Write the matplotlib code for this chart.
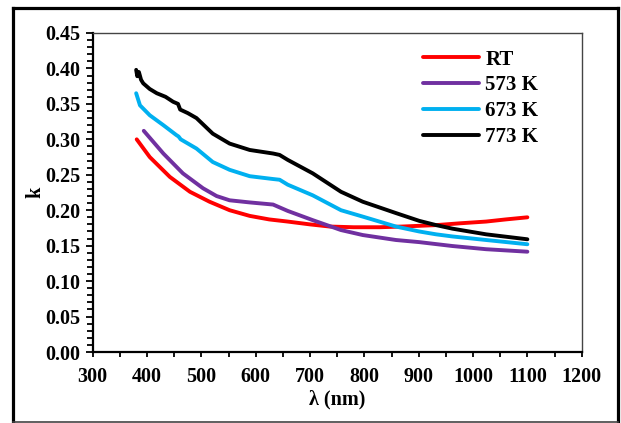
import matplotlib.pyplot as plt
from matplotlib.lines import Line2D
from matplotlib.ticker import MultipleLocator

# Data
wl_rt = [381, 405, 442, 479, 515, 552, 589, 625, 659, 700, 736, 780, 828, 870, 901, 932, 975,
         1024, 1060, 1100]
k_rt = [0.300, 0.275, 0.247, 0.226, 0.212, 0.200, 0.192, 0.187, 0.184, 0.180, 0.177, 0.176,
        0.176, 0.177, 0.178, 0.179, 0.1815, 0.184, 0.187, 0.190]

wl_573 = [394, 430, 466, 503, 528, 552, 589, 632, 659, 705, 757, 797, 858, 901, 962, 1024, 1100]
k_573 = [0.312, 0.280, 0.252, 0.231, 0.220, 0.214, 0.211, 0.208, 0.199, 0.186, 0.172, 0.165,
         0.158, 0.155, 0.1495, 0.145, 0.1415]

wl_673 = [380, 387, 405, 430, 454, 458, 462, 491, 521, 552, 589, 632, 644, 659, 705, 757, 797,
          858, 901, 932, 962, 1024, 1100]
k_673 = [0.365, 0.348, 0.334, 0.320, 0.306, 0.304, 0.300, 0.287, 0.268, 0.257, 0.248, 0.244,
         0.243, 0.236, 0.221, 0.200, 0.191, 0.177, 0.170, 0.166, 0.163, 0.158, 0.152]

wl_773 = [380, 382, 385, 389, 393, 405, 418, 434, 448, 457, 461, 475, 491, 521, 552, 589, 632,
          644, 659, 705, 757, 797, 858, 901, 932, 962, 1024, 1100]
k_773 = [0.398, 0.389, 0.395, 0.384, 0.379, 0.371, 0.365, 0.360, 0.353, 0.350, 0.342, 0.337,
         0.330, 0.308, 0.294, 0.285, 0.280, 0.278, 0.271, 0.252, 0.226, 0.212, 0.196, 0.185,
         0.179, 0.174, 0.166, 0.159]

labels = ['RT', '573 K', '673 K', '773 K']
colors = ['#FF0000', '#7030A0', '#00B0F0', '#000000']

plt.rcParams['font.family'] = ['Liberation Serif', 'DejaVu Serif']
plt.rcParams['font.weight'] = 'bold'

fig = plt.figure(figsize=(6.21, 4.23), dpi=100)
ax = fig.add_axes([92.7 / 621, 71 / 423, 489 / 621, 319 / 423])

series = [(wl_rt, k_rt), (wl_573, k_573), (wl_673, k_673), (wl_773, k_773)]
for (x, y), lab, c in zip(series, labels, colors):
    ax.plot(x, y, color=c, lw=2.8, label=lab, solid_capstyle='round', solid_joinstyle='round')

ax.set_xlim(300, 1200)
ax.set_ylim(0, 0.45)
ax.xaxis.set_major_locator(MultipleLocator(100))
ax.xaxis.set_minor_locator(MultipleLocator(50))
ax.yaxis.set_major_locator(MultipleLocator(0.05))
ax.yaxis.set_minor_locator(MultipleLocator(0.01))
ax.yaxis.set_major_formatter(plt.FuncFormatter(lambda v, p: f'{v:.2f}'))

ax.tick_params(axis='both', which='both', direction='out', width=1.3, labelsize=14.5)
ax.tick_params(axis='y', which='major', length=5, pad=4)
ax.tick_params(axis='y', which='minor', length=4.5)
ax.tick_params(axis='x', which='both', length=3.5, pad=7)

for s in ['left', 'bottom']:
    ax.spines[s].set_linewidth(1.6)
for s in ['top', 'right']:
    ax.spines[s].set_linewidth(1.0)
    ax.spines[s].set_color('#444444')

ax.set_xlabel('λ (nm)', fontsize=14.5, fontweight='bold', labelpad=2)
ax.set_ylabel('k', fontsize=14.5, fontweight='bold', labelpad=0)

ax.legend(loc='upper left', bbox_to_anchor=(0.675, 0.948), frameon=False,
          prop={'size': 15, 'weight': 'bold'}, handlelength=2.7, handletextpad=0.3,
          labelspacing=0.28, borderpad=0, borderaxespad=0)

# outer frame
fig.add_artist(Line2D([13 / 621, 13 / 621], [0, 1 - 8 / 423], color='black', lw=2.3,
                      transform=fig.transFigure))
fig.add_artist(Line2D([618 / 621, 618 / 621], [0, 1 - 8 / 423], color='black', lw=2.3,
                      transform=fig.transFigure))
fig.add_artist(Line2D([13 / 621, 618 / 621], [1 - 8 / 423, 1 - 8 / 423], color='black', lw=2.3,
                      transform=fig.transFigure))
fig.add_artist(Line2D([13 / 621, 618 / 621], [1.5 / 423, 1.5 / 423], color='#444444', lw=1.2,
                      transform=fig.transFigure))

fig.savefig('out.png', dpi=100)
